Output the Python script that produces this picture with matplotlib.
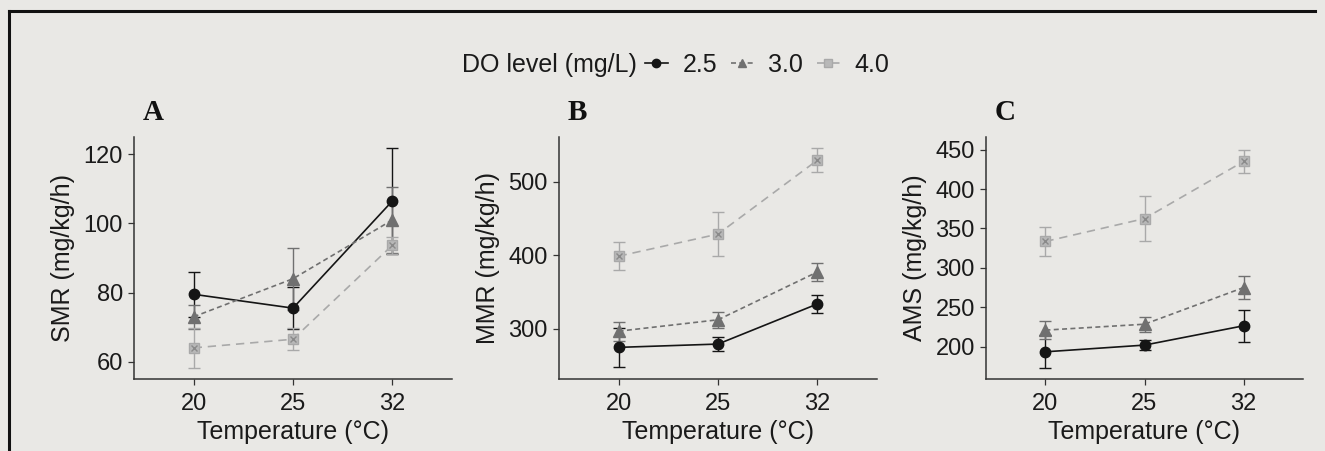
import matplotlib
matplotlib.use('Agg')
import matplotlib.pyplot as plt
from matplotlib.lines import Line2D

# data
temps = ['20', '25', '32']
levels = ['2.5', '3.0', '4.0']

smr_mean = {'2.5': [79.5, 75.5, 106.5], '3.0': [73.0, 84.0, 101.0], '4.0': [64.0, 66.5, 93.7]}
smr_se = {'2.5': [6.5, 6.0, 15.3], '3.0': [3.5, 9.0, 9.5], '4.0': [5.8, 3.2, 2.5]}

mmr_mean = {'2.5': [275.0, 279.5, 334.0], '3.0': [297.0, 312.5, 377.5], '4.0': [399.0, 429.0, 529.5]}
mmr_se = {'2.5': [27.0, 10.0, 12.5], '3.0': [13.0, 11.0, 12.7], '4.0': [19.0, 30.0, 16.5]}

ams_mean = {'2.5': [193.5, 202.0, 226.5], '3.0': [221.0, 228.5, 275.0], '4.0': [333.5, 362.5, 435.0]}
ams_se = {'2.5': [21.0, 6.0, 20.5], '3.0': [11.0, 9.5, 14.5], '4.0': [18.0, 28.5, 15.0]}

bg = '#e9e8e5'
plt.rcParams['font.family'] = ['Liberation Sans', 'DejaVu Sans']

style = {
    '2.5': dict(color='#151515', marker='o', ls='-', ms=7.5, mfc='#151515'),
    '3.0': dict(color='#707070', marker='^', ls=(0, (3, 2)), ms=8, mfc='#707070'),
    '4.0': dict(color='#a9a9a9', marker='s', ls=(0, (5, 3.5)), ms=6.5, mfc='#b8b8b8'),
}

fig = plt.figure(figsize=(13.25, 4.51), dpi=100, facecolor=bg)

W, H = 1325.0, 451.0
panels = [
    ('A', 'SMR (mg/kg/h)', smr_mean, smr_se, 134, 452, (55, 125), [60, 80, 100, 120]),
    ('B', 'MMR (mg/kg/h)', mmr_mean, mmr_se, 559, 877, (232, 561), [300, 400, 500]),
    ('C', 'AMS (mg/kg/h)', ams_mean, ams_se, 986, 1303, (159, 466), [200, 250, 300, 350, 400, 450]),
]

x = list(range(len(temps)))
for letter, ylab, means, ses, left, right, ylim, yticks in panels:
    ax = fig.add_axes([left / W, (H - 379) / H, (right - left) / W, (379 - 137) / H])
    ax.set_facecolor(bg)
    for lv in levels:
        st = style[lv]
        ax.errorbar(x, means[lv], yerr=ses[lv], color=st['color'], ls=st['ls'], lw=1.2,
                    elinewidth=1.0, capsize=4.5, capthick=1.0, zorder=2)
        ax.plot(x, means[lv], ls='none', marker=st['marker'], ms=st['ms'],
                mfc=st['mfc'], mec=st['color'], zorder=3)
        if lv == '4.0':
            ax.plot(x, means[lv], ls='none', marker='x', ms=5, mew=1.0,
                    color='#8a8a8a', zorder=4)
    ax.set_xlim(-0.6, 2.6)
    ax.set_ylim(*ylim)
    ax.set_xticks(x)
    ax.set_xticklabels(temps)
    ax.set_yticks(yticks)
    for s in ['top', 'right']:
        ax.spines[s].set_visible(False)
    for s in ['left', 'bottom']:
        ax.spines[s].set_color('#333333')
        ax.spines[s].set_linewidth(1.1)
    ax.tick_params(axis='both', length=4, width=0.9, color='#333333',
                   labelsize=17, labelcolor='#1a1a1a', pad=4)
    ax.tick_params(axis='x', pad=6)
    ax.set_xlabel('Temperature (\u00b0C)', fontsize=18, color='#1a1a1a', labelpad=4)
    ax.set_ylabel(ylab, fontsize=18, color='#1a1a1a', labelpad=6)
    fig.text((left + 9) / W, 1 - 112 / H, letter, family='Liberation Serif',
             fontweight='bold', fontsize=21, va='center', ha='left', color='#111111')

# legend across the top
fig.text(637 / W, 1 - 65 / H, 'DO level (mg/L)', fontsize=18, ha='right', va='center',
         color='#1a1a1a')
handles = []
for lv in levels:
    st = style[lv]
    h = Line2D([], [], color=st['color'], ls=st['ls'], lw=1.2, marker=st['marker'],
               ms=st['ms'] * 0.8, mfc=st['mfc'], mec=st['color'])
    handles.append(h)
fig.legend(handles, levels, loc='center left', bbox_to_anchor=(645 / W, 1 - 65 / H),
           ncol=3, frameon=False, fontsize=18, handlelength=0.9, handletextpad=0.6,
           columnspacing=0.55, borderpad=0, borderaxespad=0, labelcolor='#1a1a1a')

# scanned frame
fig.add_artist(Line2D([9 / W, 1315 / W], [1 - 11 / H, 1 - 11 / H], color='#111111', lw=2.2,
                      transform=fig.transFigure))
fig.add_artist(Line2D([9 / W, 9 / W], [1 - 11 / H, 0], color='#111111', lw=2.2,
                      transform=fig.transFigure))

fig.savefig('out.png', dpi=100, facecolor=bg)
